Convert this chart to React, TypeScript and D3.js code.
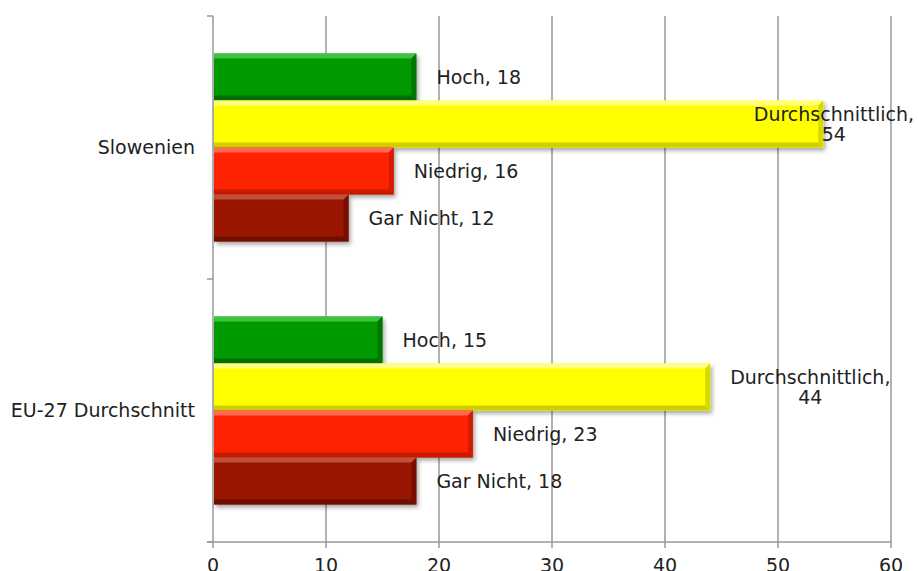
import React, { useRef, useEffect } from 'react';
import * as d3 from 'd3';

const categories = ['Slowenien', 'EU-27 Durchschnitt'];
const seriesNames = ['Hoch', 'Durchschnittlich', 'Niedrig', 'Gar Nicht'];
const slowenienValues = [18, 54, 16, 12];
const euValues = [15, 44, 23, 18];
const xTicks = [0, 10, 20, 30, 40, 50, 60];

const colours = {
  Hoch: { base: '#009900', light: '#3fc23f', dark: '#006f00' },
  Durchschnittlich: { base: '#ffff00', light: '#ffff80', dark: '#cfcf00' },
  Niedrig: { base: '#ff2400', light: '#ff6a50', dark: '#c81a00' },
  'Gar Nicht': { base: '#9a1400', light: '#c0503c', dark: '#6e0e00' },
};

const W = 918;
const H = 571;
const FONT = '"DejaVu Sans", Verdana, sans-serif';
const FS = '19px';

const App = () => {
  const ref = useRef<SVGSVGElement>(null);

  useEffect(() => {
    const svg = d3.select(ref.current);
    svg.selectAll('*').remove();

    const left = 213;
    const right = 891;
    const top = 16;
    const bottom = 542;

    const x = d3.scaleLinear().domain([0, 60]).range([left, right]);
    const y0 = d3.scaleBand().domain(categories).range([top, bottom]);
    const y1 = d3.scaleBand().domain(seriesNames).range([0, y0.bandwidth()]).paddingOuter(0.8).paddingInner(0);

    const rows = categories.map((c, i) => ({
      category: c,
      values: (i === 0 ? slowenienValues : euValues).map((v, j) => ({ name: seriesNames[j], value: v })),
    }));

    const defs = svg.append('defs');
    const f = defs.append('filter').attr('id', 'shadow').attr('x', '-5%').attr('y', '-20%').attr('width', '115%').attr('height', '150%');
    f.append('feDropShadow').attr('dx', 2).attr('dy', 3).attr('stdDeviation', 2).attr('flood-color', '#000').attr('flood-opacity', 0.35);

    // gridlines
    svg.append('g')
      .selectAll('line')
      .data(xTicks.slice(1))
      .join('line')
      .attr('x1', d => x(d)).attr('x2', d => x(d))
      .attr('y1', top).attr('y2', bottom)
      .attr('stroke', '#999').attr('stroke-width', 1.5);

    // y axis
    const yAxis = svg.append('g').attr('stroke', '#999').attr('stroke-width', 1.5);
    yAxis.append('line').attr('x1', left).attr('x2', left).attr('y1', top).attr('y2', bottom);
    const yTickPos = [top, ...categories.slice(1).map(c => y0(c)!), bottom];
    yAxis.selectAll('line.t').data(yTickPos).join('line').attr('class', 't')
      .attr('x1', left - 6).attr('x2', left).attr('y1', d => d).attr('y2', d => d);

    // x axis
    const xAxis = svg.append('g');
    xAxis.append('line').attr('x1', left - 6).attr('x2', right).attr('y1', bottom).attr('y2', bottom)
      .attr('stroke', '#999').attr('stroke-width', 1.5);
    xAxis.selectAll('line.t').data(xTicks).join('line').attr('class', 't')
      .attr('x1', d => x(d)).attr('x2', d => x(d)).attr('y1', bottom).attr('y2', bottom + 6)
      .attr('stroke', '#999').attr('stroke-width', 1.5);
    xAxis.selectAll('text').data(xTicks).join('text')
      .attr('x', d => x(d)).attr('y', bottom + 30)
      .attr('text-anchor', 'middle')
      .style('font-family', FONT).style('font-size', FS).attr('fill', '#222')
      .text(d => d);

    // category labels
    svg.append('g').selectAll('text').data(categories).join('text')
      .attr('x', 195).attr('y', d => y0(d)! + y0.bandwidth() / 2)
      .attr('dy', '0.35em').attr('text-anchor', 'end')
      .style('font-family', FONT).style('font-size', FS).attr('fill', '#222')
      .text(d => d);

    // bars
    const bev = 5;
    rows.forEach(row => {
      const g = svg.append('g').attr('transform', `translate(0,${y0(row.category)})`);
      row.values.forEach(d => {
        const c = colours[d.name as keyof typeof colours];
        const x0 = x(0) + 1;
        const x1 = x(d.value);
        const ya = y1(d.name)!;
        const yb = ya + y1.bandwidth();
        const bar = g.append('g');
        bar.append('rect').attr('x', x0).attr('y', ya).attr('width', x1 - x0).attr('height', yb - ya)
          .attr('fill', c.base).attr('filter', 'url(#shadow)');
        // bevel edges
        bar.append('polygon').attr('fill', c.light)
          .attr('points', `${x0},${ya} ${x1},${ya} ${x1 - bev},${ya + bev} ${x0},${ya + bev}`);
        bar.append('polygon').attr('fill', c.dark)
          .attr('points', `${x0},${yb} ${x1},${yb} ${x1 - bev},${yb - bev} ${x0},${yb - bev}`);
        bar.append('polygon').attr('fill', c.dark).attr('opacity', 0.8)
          .attr('points', `${x1},${ya} ${x1},${yb} ${x1 - bev},${yb - bev} ${x1 - bev},${ya + bev}`);

        // data label
        const wrap = d.name === 'Durchschnittlich';
        const lines = wrap ? [`${d.name},`, `${d.value}`] : [`${d.name}, ${d.value}`];
        const t = g.append('text')
          .style('font-family', FONT).style('font-size', FS).attr('fill', '#222')
          .attr('text-anchor', 'middle');
        const cy = (ya + yb) / 2;
        lines.forEach((l, i) => {
          t.append('tspan').attr('y', cy + (i - (lines.length - 1) / 2) * 20).attr('dy', '0.35em').text(l);
        });
        const tspans = t.selectAll<SVGTSpanElement, unknown>('tspan').nodes();
        const w = d3.max(tspans, n => n.getComputedTextLength()) || 0;
        let lx = x1 + 20;
        if (lx + w > W - 4) lx = W - 4 - w;
        t.selectAll('tspan').attr('x', lx + w / 2);
      });
    });

    return () => {
      svg.selectAll('*').remove();
    };
  }, []);

  return <svg ref={ref} width={W} height={H} style={{ position: 'absolute', left: 0, top: 0 }} />;
};

export default App;
